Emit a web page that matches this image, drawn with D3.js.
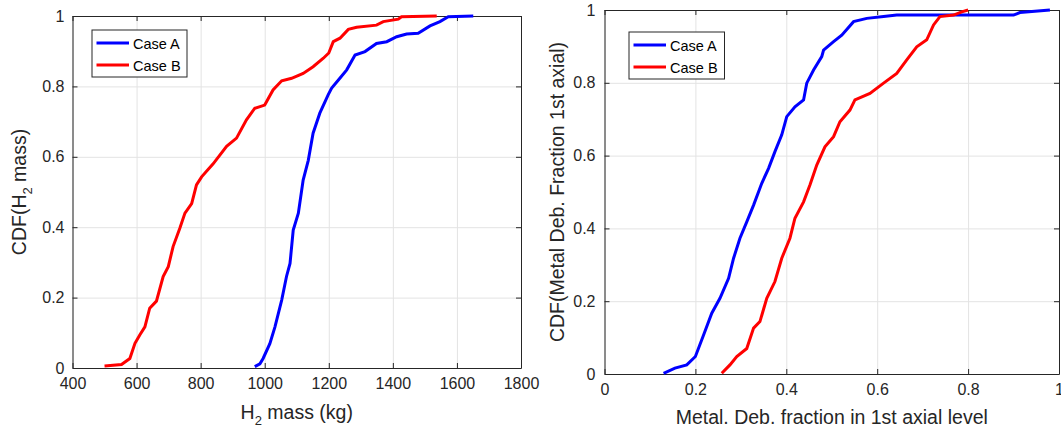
<!DOCTYPE html>
<html>
<head>
<meta charset="utf-8">
<script src="https://cdn.jsdelivr.net/npm/d3@7"></script>
<style>
  body { margin: 0; background: #fff; }
  svg { display: block; font-family: "Liberation Sans", Arial, sans-serif; }
</style>
</head>
<body>
<svg id="chart" width="1061" height="430"></svg>
<script>
const seriesNames = ["Case A", "Case B"];
const seriesColors = ["#0000ff", "#ff0000"];

const massTicks = [400, 600, 800, 1000, 1200, 1400, 1600, 1800];
const massTickLabels = ["400", "600", "800", "1000", "1200", "1400", "1600", "1800"];
const fracTicks = [0, 0.2, 0.4, 0.6, 0.8, 1];
const fracTickLabels = ["0", "0.2", "0.4", "0.6", "0.8", "1"];
const cdfTicks = [0, 0.2, 0.4, 0.6, 0.8, 1];
const cdfTickLabels = ["0", "0.2", "0.4", "0.6", "0.8", "1"];

const massCaseA = [
  [969, 0.004], [985, 0.012], [995, 0.027], [1016, 0.069], [1032, 0.117], [1053, 0.193],
  [1068, 0.26], [1079, 0.297], [1089, 0.392], [1105, 0.44], [1120, 0.534], [1136, 0.59],
  [1151, 0.667], [1172, 0.724], [1198, 0.776], [1209, 0.795], [1230, 0.818], [1256, 0.847],
  [1282, 0.889], [1313, 0.899], [1349, 0.922], [1381, 0.927], [1412, 0.941], [1443, 0.949],
  [1479, 0.951], [1516, 0.972], [1547, 0.984], [1573, 0.998], [1651, 1]
];
const massCaseB = [
  [500, 0.006], [553, 0.01], [579, 0.027], [595, 0.07], [610, 0.094], [626, 0.117],
  [641, 0.17], [662, 0.19], [683, 0.26], [699, 0.288], [714, 0.345], [735, 0.397],
  [751, 0.44], [772, 0.467], [787, 0.52], [803, 0.543], [839, 0.58], [881, 0.63],
  [912, 0.653], [943, 0.705], [969, 0.738], [1000, 0.747], [1026, 0.79], [1053, 0.816],
  [1084, 0.823], [1120, 0.837], [1151, 0.856], [1183, 0.88], [1200, 0.895], [1214, 0.927],
  [1235, 0.937], [1261, 0.962], [1287, 0.968], [1349, 0.974], [1370, 0.984], [1417, 0.991],
  [1427, 0.998], [1537, 1]
];
const fracCaseA = [
  [0.13, 0.002], [0.155, 0.016], [0.181, 0.025], [0.2, 0.048], [0.218, 0.107], [0.236, 0.167],
  [0.254, 0.208], [0.273, 0.263], [0.284, 0.318], [0.298, 0.373], [0.313, 0.418], [0.328, 0.464],
  [0.346, 0.524], [0.361, 0.565], [0.375, 0.611], [0.39, 0.657], [0.401, 0.707], [0.419, 0.734],
  [0.438, 0.753], [0.445, 0.799], [0.46, 0.835], [0.478, 0.872], [0.482, 0.89], [0.504, 0.913],
  [0.522, 0.931], [0.548, 0.968], [0.577, 0.977], [0.614, 0.982], [0.643, 0.986], [0.9, 0.986],
  [0.914, 0.993], [0.98, 1]
];
const fracCaseB = [
  [0.258, 0.002], [0.276, 0.025], [0.291, 0.048], [0.313, 0.07], [0.328, 0.126], [0.342, 0.144],
  [0.357, 0.208], [0.375, 0.254], [0.39, 0.318], [0.408, 0.373], [0.419, 0.428], [0.438, 0.473],
  [0.452, 0.519], [0.467, 0.574], [0.485, 0.624], [0.504, 0.652], [0.518, 0.693], [0.54, 0.725],
  [0.551, 0.753], [0.584, 0.771], [0.614, 0.799], [0.643, 0.826], [0.665, 0.863], [0.687, 0.899],
  [0.709, 0.918], [0.724, 0.959], [0.738, 0.982], [0.768, 0.986], [0.786, 0.995], [0.8, 1]
];

const svg = d3.select("#chart");
const axisColor = "#262626";
const gridColor = "#e3e3e3";

function panel(opt) {
  const { left, top, width, height } = opt.box;
  const g = svg.append("g").attr("transform", `translate(${left},${top})`);

  const x = d3.scaleLinear().domain(opt.xDomain).range([0, width]);
  const y = d3.scaleLinear().domain([0, 1]).range([height, 0]);

  // grid
  g.append("g")
    .attr("transform", `translate(0,${height})`)
    .call(d3.axisBottom(x).tickValues(opt.xTicks).tickSize(-height).tickFormat(""))
    .call((a) => a.select(".domain").remove())
    .call((a) => a.selectAll("line").attr("stroke", gridColor));
  g.append("g")
    .call(d3.axisLeft(y).tickValues(cdfTicks).tickSize(-width).tickFormat(""))
    .call((a) => a.select(".domain").remove())
    .call((a) => a.selectAll("line").attr("stroke", gridColor));

  // axes with inward ticks on all four sides
  const styleAxis = (a) => {
    a.select(".domain").attr("stroke", axisColor);
    a.selectAll(".tick line").attr("stroke", axisColor);
    a.selectAll("text").attr("fill", axisColor).style("font-size", "16px")
      .style("font-family", "'Liberation Sans', Arial, sans-serif");
  };
  g.append("g")
    .attr("transform", `translate(0,${height})`)
    .call(d3.axisBottom(x).tickValues(opt.xTicks).tickSizeInner(-5).tickSizeOuter(0)
      .tickPadding(opt.xPad).tickFormat((d, i) => opt.xLabels[i]))
    .call(styleAxis);
  g.append("g")
    .call(d3.axisTop(x).tickValues(opt.xTicks).tickSizeInner(-5).tickSizeOuter(0).tickFormat(""))
    .call(styleAxis);
  g.append("g")
    .call(d3.axisLeft(y).tickValues(cdfTicks).tickSizeInner(-5).tickSizeOuter(0)
      .tickPadding(opt.yPad).tickFormat((d, i) => cdfTickLabels[i]))
    .call(styleAxis);
  g.append("g")
    .attr("transform", `translate(${width},0)`)
    .call(d3.axisRight(y).tickValues(cdfTicks).tickSizeInner(-5).tickSizeOuter(0).tickFormat(""))
    .call(styleAxis);

  // curves
  const line = d3.line().x((d) => x(d[0])).y((d) => y(d[1]));
  opt.series.forEach((s, i) => {
    g.append("path")
      .datum(s)
      .attr("fill", "none")
      .attr("stroke", seriesColors[i])
      .attr("stroke-width", 3)
      .attr("stroke-linejoin", "miter")
      .attr("d", line);
  });

  // legend
  const lg = svg.append("g").attr("transform", `translate(${opt.legend.x},${opt.legend.y})`);
  lg.append("rect")
    .attr("width", opt.legend.w).attr("height", 47)
    .attr("fill", "#fff").attr("stroke", axisColor).attr("stroke-width", 1);
  seriesNames.forEach((name, i) => {
    const yy = 13 + i * 22;
    lg.append("line").attr("x1", 4.5).attr("x2", 37)
      .attr("y1", yy).attr("y2", yy)
      .attr("stroke", seriesColors[i]).attr("stroke-width", 3);
    lg.append("text").attr("x", 41).attr("y", yy + 5.5)
      .attr("fill", "#000").style("font-size", "14.5px").text(name);
  });

  // x label
  const xl = svg.append("text")
    .attr("x", left + width / 2).attr("y", opt.xLabelY)
    .attr("text-anchor", "middle").attr("fill", axisColor)
    .style("font-size", "19.5px");
  opt.xLabel(xl);

  // y label
  const yl = svg.append("text")
    .attr("transform", `translate(${opt.yLabelX},${top + height / 2}) rotate(-90)`)
    .attr("text-anchor", "middle").attr("fill", axisColor)
    .style("font-size", "19.5px");
  opt.yLabel(yl);
}

panel({
  box: { left: 72.5, top: 16, width: 448.5, height: 352 },
  xDomain: [400, 1800],
  xTicks: massTicks,
  xLabels: massTickLabels,
  xPad: 10, yPad: 8,
  series: [massCaseA, massCaseB],
  legend: { x: 92, y: 30, w: 95 },
  xLabelY: 419,
  xLabel: (t) => {
    t.append("tspan").text("H");
    t.append("tspan").attr("dy", 6).style("font-size", "13px").text("2");
    t.append("tspan").attr("dy", -6).text(" mass (kg)");
  },
  yLabelX: 26,
  yLabel: (t) => {
    t.append("tspan").text("CDF(H");
    t.append("tspan").attr("dy", 6).style("font-size", "13px").text("2");
    t.append("tspan").attr("dy", -6).text(" mass)");
  }
});

panel({
  box: { left: 604.5, top: 10, width: 454.5, height: 364 },
  xDomain: [0, 1],
  xTicks: fracTicks,
  xLabels: fracTickLabels,
  xPad: 10, yPad: 9,
  series: [fracCaseA, fracCaseB],
  legend: { x: 629, y: 32, w: 95.5 },
  xLabelY: 424,
  xLabel: (t) => t.text("Metal. Deb. fraction in 1st axial level"),
  yLabelX: 564,
  yLabel: (t) => t.text("CDF(Metal Deb. Fraction 1st axial)")
});
</script>
</body>
</html>
